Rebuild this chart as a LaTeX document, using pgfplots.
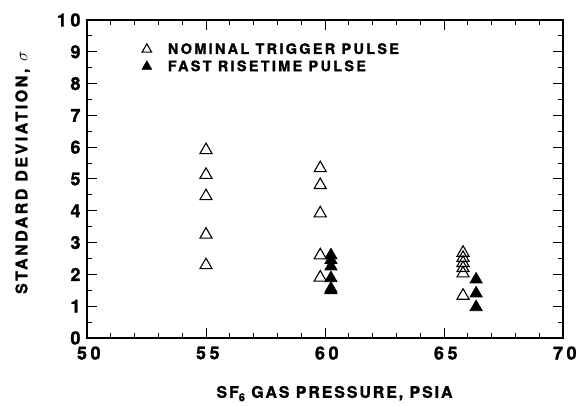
\documentclass[border=0pt]{standalone}
\usepackage{fontspec}
\setmainfont{texgyreheros-regular.otf}[BoldFont=texgyreheros-bold.otf]
\newfontfamily\tickfont{texgyreheros-bold.otf}[LetterSpace=20, FakeBold=1.5]
\newfontfamily\labfont{texgyreheros-bold.otf}[LetterSpace=16, FakeBold=1.5]
\newfontfamily\xlabfont{texgyreheros-bold.otf}[LetterSpace=12, FakeBold=1.5]
\usepackage{pgfplots}
\pgfplotsset{compat=1.18}
\begin{document}
\begin{tikzpicture}
\begin{axis}[
  name=main,
  scale only axis,
  width=476bp, height=318bp,
  xmin=50, xmax=70, ymin=0, ymax=10,
  xtick={50,55,...,70}, minor x tick num=4,
  ytick={0,1,...,10}, minor y tick num=1,
  tick align=inside,
  major tick length=10bp, minor tick length=5bp,
  every tick/.style={black, line width=1bp},
  axis line style={line width=1.6bp},
  tick label style={font=\fontsize{18}{18}\selectfont\tickfont},
  /pgf/number format/assume math mode=true,
  xticklabel style={yshift=-5bp, xshift=1.8bp},
  yticklabel style={xshift=-3bp},
  xlabel={\fontsize{16}{16}\selectfont\xlabfont SF\raisebox{-0.4ex}{\fontsize{11}{11}\selectfont 6}\ GAS PRESSURE, PSIA},
  ylabel={\fontsize{16}{16}\selectfont\labfont STANDARD DEVIATION, $\sigma$},
  every axis x label/.style={at={(axis description cs:0.52,-0.175)}, anchor=center},
  every axis y label/.style={at={(axis description cs:-0.135,0.52)}, anchor=center, rotate=90},
  legend style={draw=none, fill=none, at={(rel axis cs:0.1,0.94)}, anchor=north west,
    font=\fontsize{14.5}{14.5}\selectfont\labfont, row sep=1bp,
    legend cell align=left},
  legend image code/.code={\draw[#1, mark size=5.5bp] plot coordinates {(0.3cm,0cm)}; \path (0,0) (27bp,0);},
]
\addplot[only marks, mark=triangle, mark size=7bp, line width=1.1bp, black] coordinates {
 (55,5.91) (55,5.13) (55,4.46) (55,3.25) (55,2.29)
 (59.8,5.34) (59.8,4.81) (59.8,3.92) (59.8,2.60) (59.8,1.90)
 (65.8,2.68) (65.8,2.52) (65.8,2.36) (65.8,2.20) (65.8,2.03) (65.8,1.33)
};
\addlegendentry{NOMINAL TRIGGER PULSE}
\addplot[only marks, mark=triangle*, mark size=7bp, line width=0.8bp, black, fill=black] coordinates {
 (60.25,2.60) (60.25,2.45) (60.25,2.25) (60.25,1.88) (60.25,1.55) (60.25,1.50)
 (66.35,1.84) (66.35,1.40) (66.35,0.97)
};
\addlegendentry{FAST RISETIME PULSE}
\end{axis}
\pgfresetboundingbox
\path ([xshift=-87bp, yshift=-68bp]main.south west) rectangle ([xshift=16bp, yshift=20bp]main.north east);
\end{tikzpicture}
\end{document}
